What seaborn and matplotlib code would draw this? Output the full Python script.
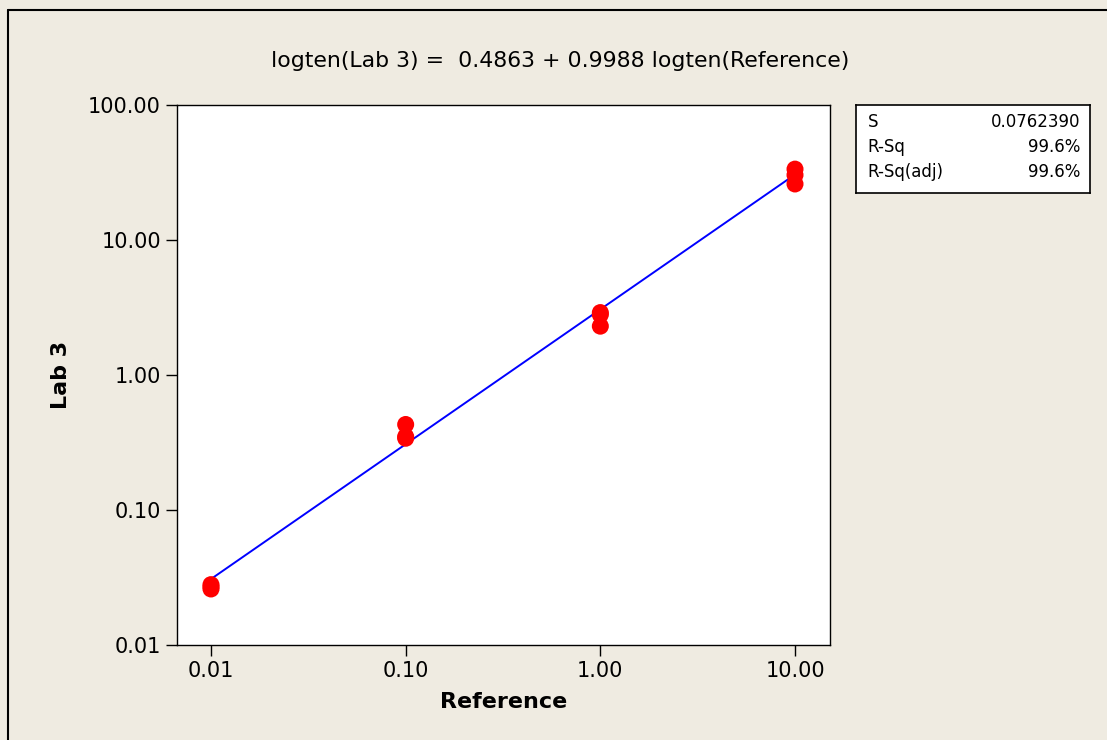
import numpy as np
import pandas as pd
import matplotlib
matplotlib.use("Agg")
import matplotlib.pyplot as plt
import seaborn as sns
from matplotlib.ticker import FixedLocator, NullLocator

# data
reference = [0.01, 0.01, 0.01, 0.1, 0.1, 0.1, 1, 1, 1, 10, 10, 10]
lab3 = [0.028, 0.027, 0.026, 0.43, 0.35, 0.34, 2.9, 2.8, 2.3, 33.5, 30.3, 26.0]
intercept = 0.4863
slope = 0.9988
stats_names = ["S", "R-Sq", "R-Sq(adj)"]
stats_vals = ["0.0762390", "99.6%", "99.6%"]
ticks = [0.01, 0.1, 1, 10, 100]
tick_labels = ["0.01", "0.10", "1.00", "10.00", "100.00"]

df = pd.DataFrame({"Reference": reference, "Lab 3": lab3})

sns.set_style("white")
plt.rcParams['font.family'] = ['DejaVu Sans']
plt.rcParams['text.color'] = 'black'
plt.rcParams['axes.labelcolor'] = 'black'
bg = "#EFEBE1"

fig = plt.figure(figsize=(11.07, 7.4), dpi=100, facecolor=bg)
ax = fig.add_axes([177/1107, 1 - 645/740, (830-177)/1107, (645-105)/740])
ax.set_facecolor("white")

# fitted line
xf = np.logspace(-2, 1, 60)
yf = 10 ** (intercept + slope * np.log10(xf))
ax.plot(xf, yf, color="#0000FF", lw=1.4, zorder=2)

sns.scatterplot(data=df, x="Reference", y="Lab 3", ax=ax, color="#FF0000",
                s=150, edgecolor="none", zorder=3)

ax.set_xscale("log")
ax.set_yscale("log")
ax.set_xlim(10 ** (-2 - 34/194.7), 10 ** (1 + 35/194.7))
ax.set_ylim(0.01, 100)
ax.xaxis.set_major_locator(FixedLocator(ticks[:4]))
ax.set_xticklabels(tick_labels[:4])
ax.yaxis.set_major_locator(FixedLocator(ticks))
ax.set_yticklabels(tick_labels)
ax.xaxis.set_minor_locator(NullLocator())
ax.yaxis.set_minor_locator(NullLocator())
ax.tick_params(axis="both", direction="out", length=8, width=1, labelsize=15,
               bottom=True, left=True, colors="black")
for sp in ax.spines.values():
    sp.set_color("black")
    sp.set_linewidth(1)

ax.set_xlabel("Reference", fontsize=16, fontweight="bold", labelpad=8)
ax.set_ylabel("Lab 3", fontsize=16, fontweight="bold", labelpad=12)
fig.text(560/1107, 1 - 61/740,
         "logten(Lab 3) =  %.4f + %.4f logten(Reference)" % (intercept, slope),
         fontsize=15.8, ha="center", va="center")

# stats box
box = fig.add_axes([856/1107, 1 - 193/740, (1090-856)/1107, (193-105)/740])
box.set_facecolor("white")
box.set_xticks([])
box.set_yticks([])
for sp in box.spines.values():
    sp.set_color("black")
    sp.set_linewidth(1.2)
for i, (n, v) in enumerate(zip(stats_names, stats_vals)):
    yy = 0.81 - i * 0.285
    box.text(0.05, yy, n, fontsize=12, va="center", ha="left", transform=box.transAxes)
    box.text(0.96, yy, v, fontsize=12, va="center", ha="right", transform=box.transAxes)

# outer frame lines (top and left)
fig.add_artist(plt.Line2D([8/1107, 1], [1 - 10/740, 1 - 10/740], color="black", lw=1.5))
fig.add_artist(plt.Line2D([8/1107, 8/1107], [0, 1 - 10/740], color="black", lw=1.5))

fig.savefig("out.png", dpi=100, facecolor=bg)
